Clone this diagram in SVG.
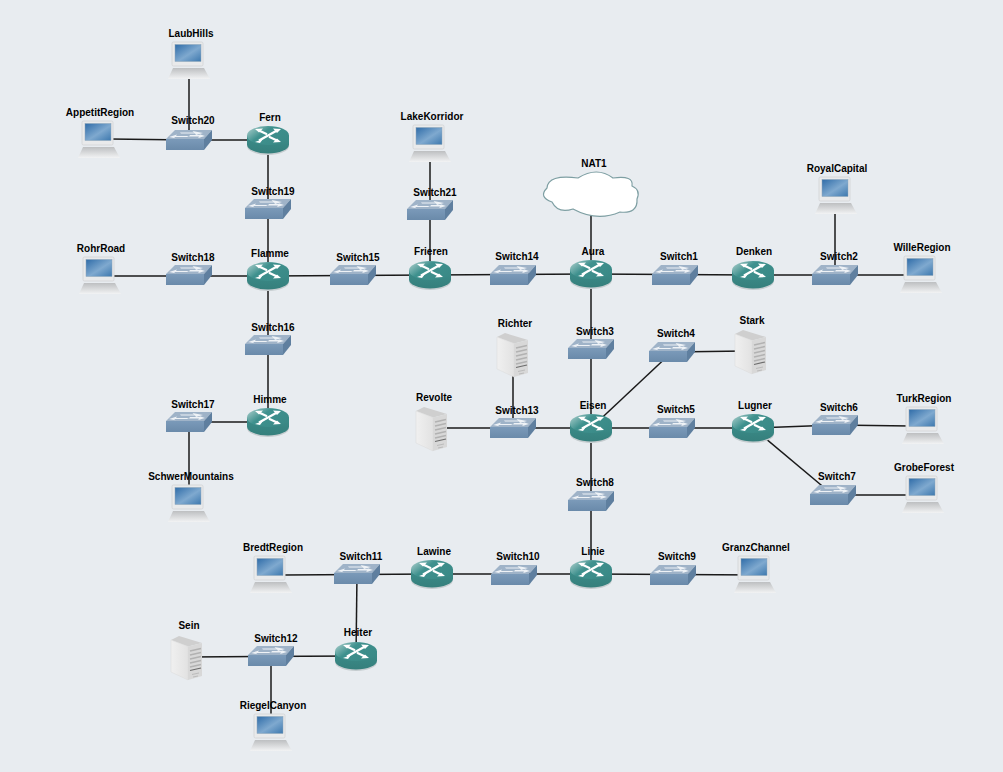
<svg xmlns="http://www.w3.org/2000/svg" width="1003" height="772" viewBox="0 0 1003 772">
<style>
text{font-family:"Liberation Sans",Arial,sans-serif;font-size:10px;font-weight:bold;fill:#000;text-anchor:middle}
.c line{stroke:#1a1a1a;stroke-width:1.5;fill:none}
</style>
<defs>
<linearGradient id="rt" x1="0" y1="0" x2="1" y2="0.6"><stop offset="0" stop-color="#b5d4d2"/><stop offset="0.45" stop-color="#3f918e"/><stop offset="1" stop-color="#3a8a87"/></linearGradient>
<linearGradient id="rs" x1="0" y1="0" x2="0" y2="1"><stop offset="0" stop-color="#3c8d8a"/><stop offset="1" stop-color="#357f7c"/></linearGradient>
<linearGradient id="sf" x1="0" y1="0" x2="0" y2="1"><stop offset="0" stop-color="#7b9ab9"/><stop offset="1" stop-color="#6a8aaa"/></linearGradient>
<linearGradient id="scr" x1="0" y1="0" x2="1" y2="1"><stop offset="0" stop-color="#2f6ca8"/><stop offset="0.55" stop-color="#7fa9cf"/><stop offset="1" stop-color="#3d78ae"/></linearGradient>
<linearGradient id="lb" x1="0" y1="0" x2="0" y2="1"><stop offset="0" stop-color="#bdbfc1"/><stop offset="1" stop-color="#f2f3f4"/></linearGradient>
<linearGradient id="sv" x1="0" y1="0" x2="1" y2="0"><stop offset="0" stop-color="#f0f0f0"/><stop offset="1" stop-color="#e2e2e2"/></linearGradient>
<g id="router">
<ellipse cx="0" cy="6" rx="21" ry="9" fill="#c5cccf"/>
<path d="M-21-4.500V4.500A21 9 0 0 0 21 4.500V-4.500Z" fill="url(#rs)"/>
<ellipse cx="0" cy="-4.500" rx="21" ry="9.500" fill="url(#rt)"/>
<path d="M-9-9.500-1-5.700M1-3.300 9 .5M-9 .5 9-9.500" stroke="#fff" stroke-width="2.200" fill="none"/>
<path d="M-13-11-5-11.500-9-7.500ZM13 2 5 2.500 9-1.500ZM-13 2-5-1-8 3ZM13-11 5-11.500 9-7Z" fill="#fff"/>
</g>
<g id="switch">
<path d="M-23-1-14-10H23L15-1Z" fill="#9fb3c8"/>
<path d="M-23-1H15V10H-23Z" fill="url(#sf)"/>
<path d="M15-1 23-10V0L15 10Z" fill="#5f7f9f"/>
<path d="M-9-7.500H5L3.500-9 14-7 7-5 6-6.500H-8ZM-2-3H-15L-13.500-1.800-20-3-12-5.500-13-4H0ZM1-5H11L10-6 16-4 9-2 10-3.500H0Z" fill="#eef2f6"/>
</g>
<g id="laptop">
<path d="M0 37 5 26H36L42 37Z" fill="url(#lb)"/>
<rect x="4" y="0" width="31" height="24" rx="1.500" fill="#e9eaeb" stroke="#d6d8da"/>
<rect x="7" y="2.500" width="26" height="17" fill="url(#scr)" stroke="#8ea5b8" stroke-width=".5"/>
</g>
<g id="server">
<path d="M0 5 8 1 31 8 17 11.500Z" fill="#cfcfcf"/>
<path d="M0 5 17 11.500V45L0 37Z" fill="url(#sv)" stroke="#dadada" stroke-width=".5"/>
<path d="M17 11.500 31 8V41L17 45Z" fill="#d8d8d8"/>
<path d="M19 16 30 13.500M19 20 30 17.500M19 24 30 21.500M19 28 30 25.500M19 32 30 29.500" stroke="#b2b2b2" stroke-width="1.600"/>
<path d="M19 35.500 30 33" stroke="#6c6c6c" stroke-width="1.200"/>
<path d="M21 39.500 28 38M22 42 27 41" stroke="#bbb" stroke-width="1"/>
</g>
</defs>
<rect width="1003" height="772" fill="#e8ecf0"/>
<g id="connectors" class="c">
<line x1="189" y1="78" x2="189" y2="140"/>
<line x1="110" y1="139" x2="189" y2="140"/>
<line x1="189" y1="140" x2="268" y2="140"/>
<line x1="268" y1="140" x2="268" y2="276"/>
<line x1="110" y1="276" x2="268" y2="276"/>
<line x1="268" y1="276" x2="268" y2="422"/>
<line x1="189" y1="422" x2="268" y2="422"/>
<line x1="189" y1="422" x2="189" y2="490"/>
<line x1="268" y1="276" x2="430" y2="275"/>
<line x1="430" y1="160" x2="430" y2="275"/>
<line x1="430" y1="275" x2="591" y2="274"/>
<line x1="591" y1="210" x2="591" y2="574"/>
<line x1="591" y1="274" x2="753" y2="275"/>
<line x1="753" y1="275" x2="910" y2="275"/>
<line x1="835" y1="210" x2="835" y2="275"/>
<line x1="591" y1="428" x2="672" y2="352"/>
<line x1="672" y1="352" x2="745" y2="351"/>
<line x1="513" y1="375" x2="513" y2="428"/>
<line x1="447" y1="428" x2="591" y2="428"/>
<line x1="591" y1="428" x2="753" y2="428"/>
<line x1="753" y1="428" x2="835" y2="425"/>
<line x1="835" y1="425" x2="910" y2="426"/>
<line x1="753" y1="428" x2="833" y2="495"/>
<line x1="833" y1="495" x2="910" y2="495"/>
<line x1="591" y1="574" x2="760" y2="575"/>
<line x1="285" y1="575" x2="432" y2="574"/>
<line x1="432" y1="574" x2="591" y2="574"/>
<line x1="357" y1="574" x2="356" y2="656"/>
<line x1="190" y1="657" x2="356" y2="656"/>
<line x1="271" y1="656" x2="271" y2="725"/>
</g>
<g id="LaubHills"><use href="#laptop" x="168" y="42"/><text x="191" y="37">LaubHills</text></g>
<g id="AppetitRegion"><use href="#laptop" x="78" y="121"/><text x="100" y="116">AppetitRegion</text></g>
<g id="RohrRoad"><use href="#laptop" x="79" y="257"/><text x="101" y="252">RohrRoad</text></g>
<g id="SchwerMountains"><use href="#laptop" x="168" y="485"/><text x="191" y="480">SchwerMountains</text></g>
<g id="LakeKorridor"><use href="#laptop" x="409" y="125"/><text x="432" y="120">LakeKorridor</text></g>
<g id="RoyalCapital"><use href="#laptop" x="815" y="177"/><text x="837" y="172">RoyalCapital</text></g>
<g id="WilleRegion"><use href="#laptop" x="900" y="256"/><text x="922" y="251">WilleRegion</text></g>
<g id="TurkRegion"><use href="#laptop" x="902" y="407"/><text x="924" y="402">TurkRegion</text></g>
<g id="GrobeForest"><use href="#laptop" x="902" y="476"/><text x="924" y="471">GrobeForest</text></g>
<g id="GranzChannel"><use href="#laptop" x="734" y="556"/><text x="756" y="551">GranzChannel</text></g>
<g id="BredtRegion"><use href="#laptop" x="250" y="556"/><text x="273" y="551">BredtRegion</text></g>
<g id="RiegelCanyon"><use href="#laptop" x="250" y="714"/><text x="273" y="709">RiegelCanyon</text></g>
<g id="Richter"><use href="#server" x="497" y="332"/><text x="515" y="327">Richter</text></g>
<g id="Revolte"><use href="#server" x="416" y="406"/><text x="434" y="401">Revolte</text></g>
<g id="Stark"><use href="#server" x="735" y="329"/><text x="752" y="324">Stark</text></g>
<g id="Sein"><use href="#server" x="171" y="635"/><text x="189" y="629">Sein</text></g>
<g id="NAT1">
<path d="M578 178Q597 166 613 178Q634 175 632 186Q641 190 637 199Q638 214 620 212Q597 222 573 209Q558 214 552 202Q538 197 547 188Q548 174 578 178Z" fill="#fff" stroke="#7e9fa3" stroke-width="1.200"/>
<text x="594" y="167">NAT1</text>
</g>
<g id="Fern"><use href="#router" x="268" y="140"/><text x="270" y="121">Fern</text></g>
<g id="Flamme"><use href="#router" x="268" y="276"/><text x="270" y="257">Flamme</text></g>
<g id="Himme"><use href="#router" x="268" y="422"/><text x="270" y="403">Himme</text></g>
<g id="Frieren"><use href="#router" x="430" y="275"/><text x="431" y="255">Frieren</text></g>
<g id="Aura"><use href="#router" x="591" y="274"/><text x="593" y="255">Aura</text></g>
<g id="Denken"><use href="#router" x="753" y="275"/><text x="754" y="255">Denken</text></g>
<g id="Eisen"><use href="#router" x="591" y="428"/><text x="593" y="409">Eisen</text></g>
<g id="Lugner"><use href="#router" x="753" y="428"/><text x="755" y="409">Lugner</text></g>
<g id="Linie"><use href="#router" x="591" y="574"/><text x="593" y="555">Linie</text></g>
<g id="Lawine"><use href="#router" x="432" y="574"/><text x="434" y="555">Lawine</text></g>
<g id="Heiter"><use href="#router" x="356" y="656"/><text x="358" y="636">Heiter</text></g>
<g id="Switch20"><use href="#switch" x="189" y="140"/><text x="193" y="124">Switch20</text></g>
<g id="Switch19"><use href="#switch" x="268" y="209"/><text x="273" y="195">Switch19</text></g>
<g id="Switch18"><use href="#switch" x="189" y="275"/><text x="193" y="261">Switch18</text></g>
<g id="Switch16"><use href="#switch" x="268" y="345"/><text x="273" y="331">Switch16</text></g>
<g id="Switch17"><use href="#switch" x="189" y="422"/><text x="193" y="408">Switch17</text></g>
<g id="Switch15"><use href="#switch" x="353" y="275"/><text x="358" y="261">Switch15</text></g>
<g id="Switch21"><use href="#switch" x="430" y="210"/><text x="435" y="196">Switch21</text></g>
<g id="Switch14"><use href="#switch" x="513" y="275"/><text x="517" y="260">Switch14</text></g>
<g id="Switch1"><use href="#switch" x="675" y="275"/><text x="679" y="260">Switch1</text></g>
<g id="Switch2"><use href="#switch" x="835" y="275"/><text x="839" y="260">Switch2</text></g>
<g id="Switch3"><use href="#switch" x="591" y="349"/><text x="595" y="335">Switch3</text></g>
<g id="Switch4"><use href="#switch" x="672" y="352"/><text x="676" y="337">Switch4</text></g>
<g id="Switch13"><use href="#switch" x="513" y="428"/><text x="517" y="414">Switch13</text></g>
<g id="Switch5"><use href="#switch" x="672" y="428"/><text x="676" y="413">Switch5</text></g>
<g id="Switch6"><use href="#switch" x="835" y="425"/><text x="839" y="411">Switch6</text></g>
<g id="Switch7"><use href="#switch" x="833" y="495"/><text x="837" y="480">Switch7</text></g>
<g id="Switch8"><use href="#switch" x="591" y="501"/><text x="595" y="486">Switch8</text></g>
<g id="Switch9"><use href="#switch" x="673" y="575"/><text x="677" y="560">Switch9</text></g>
<g id="Switch10"><use href="#switch" x="514" y="575"/><text x="518" y="560">Switch10</text></g>
<g id="Switch11"><use href="#switch" x="357" y="574"/><text x="361" y="560">Switch11</text></g>
<g id="Switch12"><use href="#switch" x="271" y="656"/><text x="276" y="642">Switch12</text></g>
</svg>
